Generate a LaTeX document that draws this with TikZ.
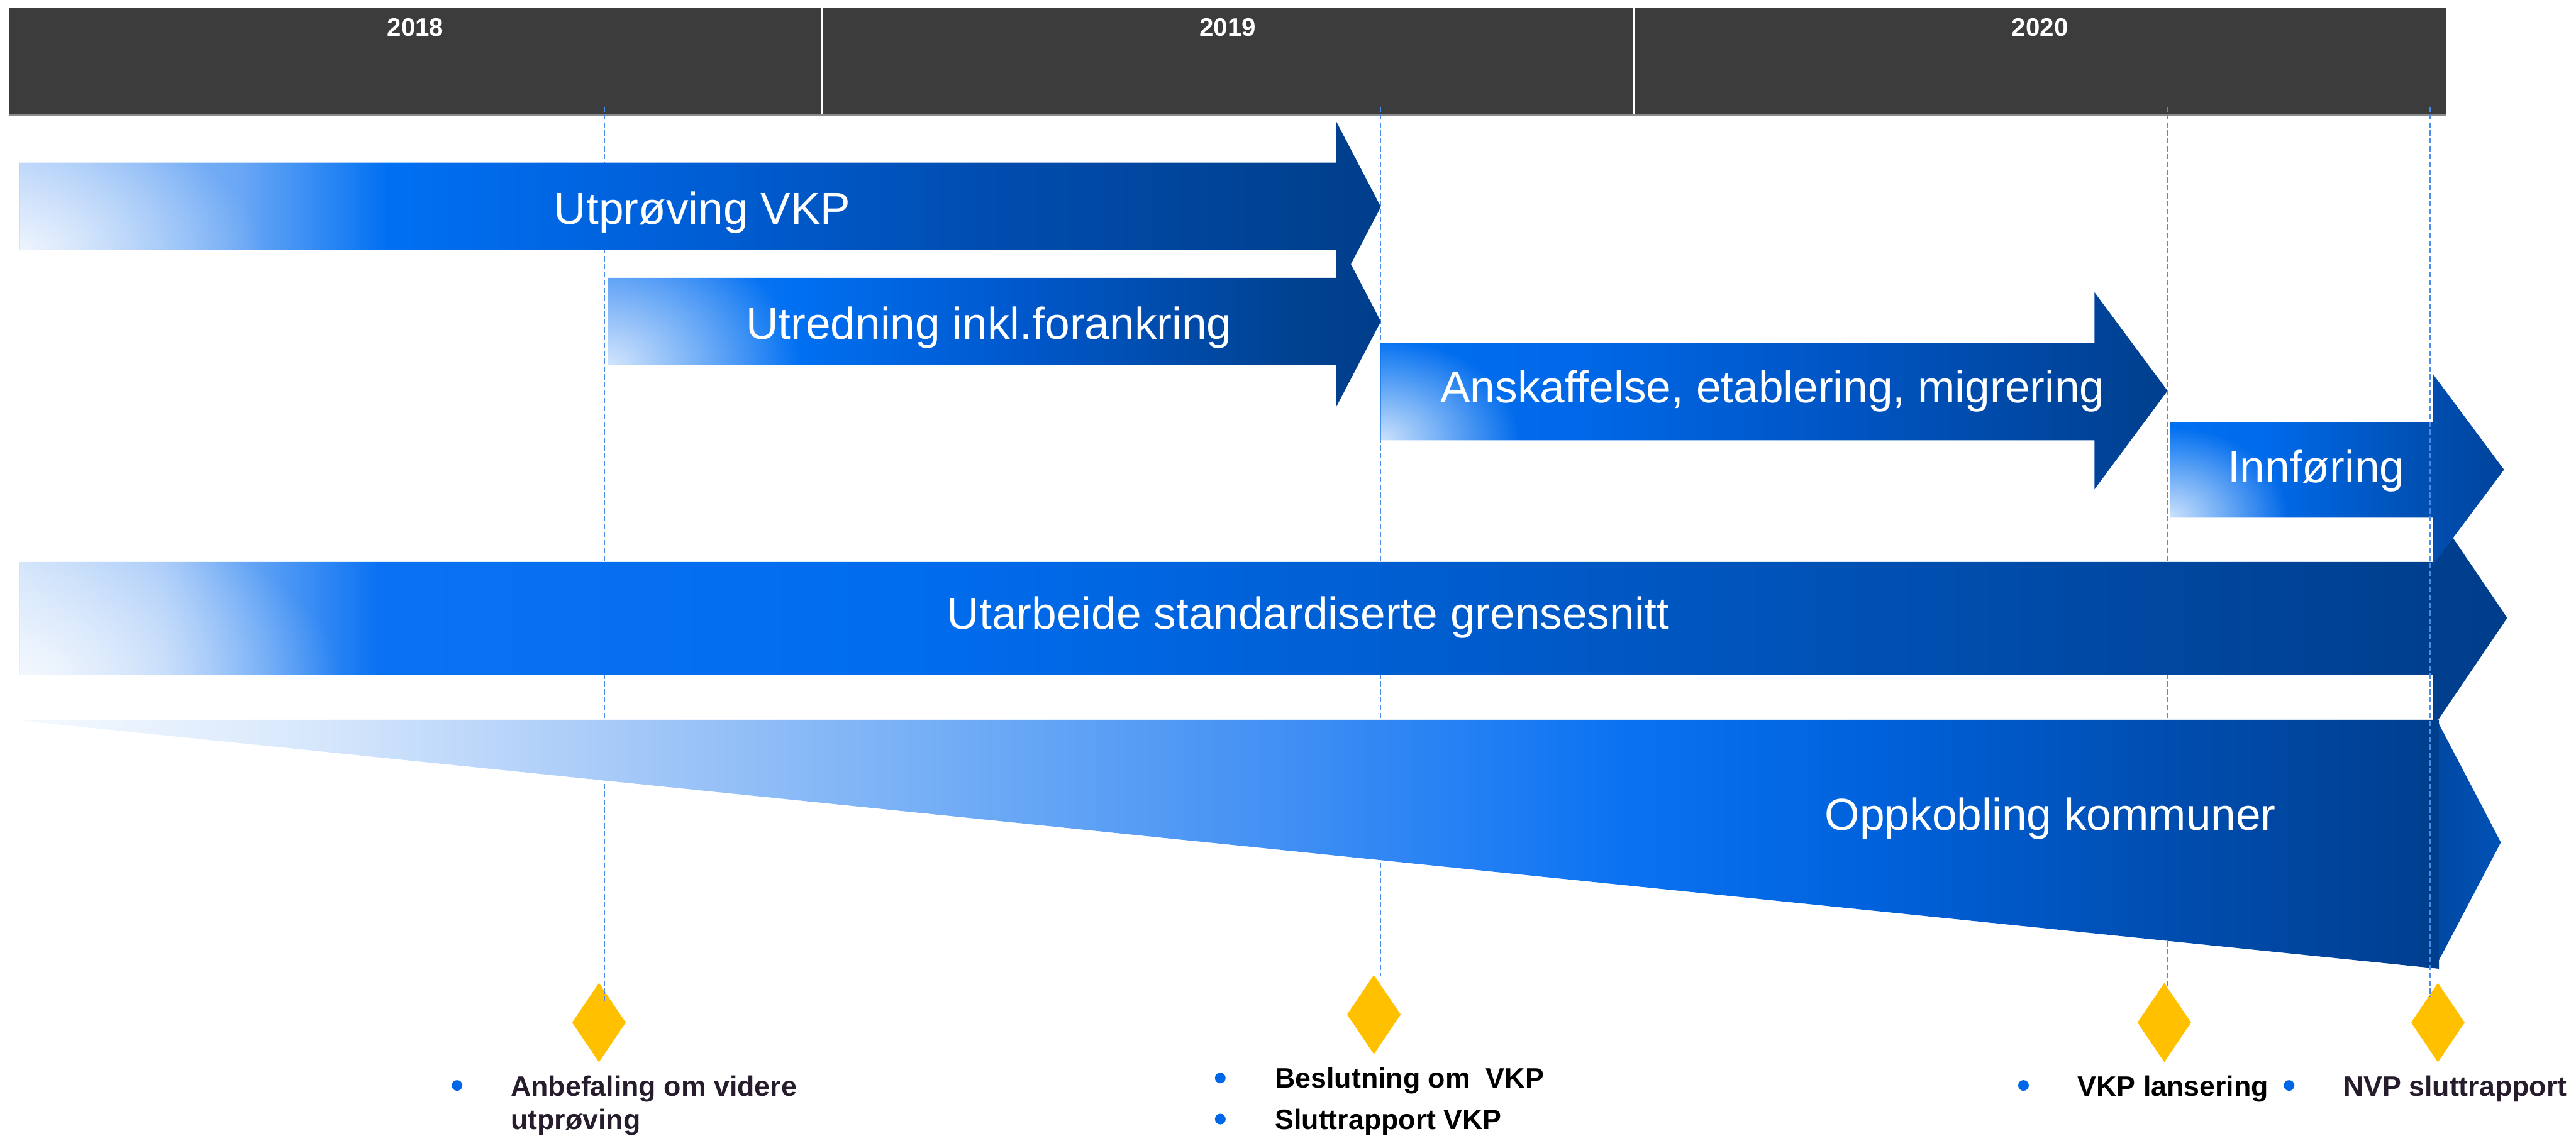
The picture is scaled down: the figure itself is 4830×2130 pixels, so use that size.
\documentclass[tikz,border=0pt]{standalone}
\usepackage{fontspec}
\setmainfont{Liberation Sans}
\usetikzlibrary{shapes.geometric,fadings}

% palette
\definecolor{hdr}{HTML}{3C3C3C}
\definecolor{hdrline}{HTML}{8A8A8A}
\definecolor{guideblue}{HTML}{4A8CE6}
\definecolor{msyellow}{HTML}{FFC000}
\definecolor{dotblue}{HTML}{0066E8}
\definecolor{msdark}{HTML}{261C2C}

% arrow 1
\definecolor{aA}{HTML}{A8CAF8}\definecolor{aB}{HTML}{68A6F5}\definecolor{aC}{HTML}{0070F2}
\definecolor{aD}{HTML}{0061DB}\definecolor{aE}{HTML}{004CAE}\definecolor{aF}{HTML}{00408E}
\definecolor{aG}{HTML}{003E8C}
% arrow 2
\definecolor{bA}{HTML}{1F7DF3}\definecolor{bB}{HTML}{0070F2}\definecolor{bC}{HTML}{0058CC}
\definecolor{bD}{HTML}{00418F}\definecolor{bE}{HTML}{003E8C}
% arrow 3
\definecolor{cA}{HTML}{0070F2}\definecolor{cB}{HTML}{0068E8}\definecolor{cC}{HTML}{0054C2}
\definecolor{cD}{HTML}{00449A}\definecolor{cE}{HTML}{003F8E}
% arrow 4
\definecolor{dA}{HTML}{0070F2}\definecolor{dB}{HTML}{006AEA}\definecolor{dC}{HTML}{0052B8}
\definecolor{dD}{HTML}{00449C}
% arrow 5
\definecolor{eA}{HTML}{C8DEFA}\definecolor{eB}{HTML}{A0C6F8}\definecolor{eC}{HTML}{0A72F2}
\definecolor{eD}{HTML}{006CEE}\definecolor{eE}{HTML}{0056C0}\definecolor{eF}{HTML}{003F8E}
\definecolor{eG}{HTML}{003E8C}
% arrow 6
\definecolor{fA}{HTML}{F6FAFE}\definecolor{fB}{HTML}{D8E8FC}\definecolor{fC}{HTML}{A2C7F8}
\definecolor{fD}{HTML}{6DAAF5}\definecolor{fE}{HTML}{3B8CF4}\definecolor{fF}{HTML}{0A72F2}
\definecolor{fG}{HTML}{0062DC}\definecolor{fH}{HTML}{004FB4}\definecolor{fI}{HTML}{003E8E}
\definecolor{hA}{HTML}{0049A4}\definecolor{hB}{HTML}{0052B6}

\pgfdeclarehorizontalshading{shA}{100bp}{color(0bp)=(aA); color(25bp)=(aA); color(33.25bp)=(aB);
  color(38.5bp)=(aC); color(48bp)=(aD); color(61bp)=(aE); color(73.25bp)=(aF); color(75bp)=(aG); color(100bp)=(aG)}
\pgfdeclarehorizontalshading{shB}{100bp}{color(0bp)=(bA); color(25bp)=(bA); color(37bp)=(bB);
  color(51.5bp)=(bC); color(70bp)=(bD); color(75bp)=(bE); color(100bp)=(bE)}
\pgfdeclarehorizontalshading{shC}{100bp}{color(0bp)=(cA); color(25bp)=(cA); color(37.5bp)=(cB);
  color(55bp)=(cC); color(70bp)=(cD); color(75bp)=(cE); color(100bp)=(cE)}
\pgfdeclarehorizontalshading{shD}{100bp}{color(0bp)=(dA); color(25bp)=(dA); color(40bp)=(dB);
  color(60bp)=(dC); color(75bp)=(dD); color(100bp)=(dD)}
\pgfdeclarehorizontalshading{shE}{100bp}{color(0bp)=(eA); color(25bp)=(eA); color(27.9bp)=(eB);
  color(32.2bp)=(eC); color(43bp)=(eD); color(58.25bp)=(eE); color(73.5bp)=(eF); color(75bp)=(eG); color(100bp)=(eG)}
\pgfdeclarehorizontalshading{shF}{100bp}{color(0bp)=(fA); color(25bp)=(fA); color(31bp)=(fB);
  color(38bp)=(fC); color(45bp)=(fD); color(52bp)=(fE); color(58.25bp)=(fF); color(63.25bp)=(fG);
  color(68.75bp)=(fH); color(75bp)=(fI); color(100bp)=(fI)}
\pgfdeclarehorizontalshading{shH}{100bp}{color(0bp)=(hA); color(25bp)=(hA); color(75bp)=(hB); color(100bp)=(hB)}

% soft white spot for the lower left corners of the bars
\tikzfading[name=glow, inner color=transparent!20, outer color=transparent!100]

\begin{document}
\begin{tikzpicture}[x=0.01cm,y=-0.01cm,
  yearlbl/.style={text=white,font=\fontsize{13.5pt}{16pt}\selectfont\bfseries,inner sep=0pt,anchor=base},
  barlbl/.style={text=white,font=\fontsize{23.9pt}{28pt}\selectfont,inner sep=0pt,anchor=base west},
  mslbl/.style={font=\fontsize{15pt}{18pt}\selectfont\bfseries,inner sep=0pt,anchor=base west},
  msdot/.style={circle,fill=dotblue,inner sep=0pt,minimum size=0.2cm},
  milestone/.style={diamond,fill=msyellow,inner sep=0pt,minimum width=1.01cm,minimum height=1.49cm},
  guide/.style={draw=guideblue,line width=0.55pt,dash pattern=on 2.8pt off 1.4pt},
  glowspot/.style={fill=white,path fading=glow}
]
\useasboundingbox (0,0) rectangle (4830,2130);

% year header
\fill[hdr] (18,15) rectangle (4586,216);
\draw[white,line width=0.8pt] (1541,15) -- (1541,216);
\draw[white,line width=0.8pt] (3064,15) -- (3064,216);
\draw[hdrline,line width=0.6pt] (18,216) -- (4586,216);
\node[yearlbl] (y2018) at (779,68) {2018};
\node[yearlbl] (y2019) at (2302,68) {2019};
\node[yearlbl] (y2020) at (3825,68) {2020};

% milestones
\node[milestone] (m1) at (1123,1918) {};
\node[milestone] (m2) at (2576,1903) {};
\node[milestone] (m3) at (4058,1918) {};
\node[milestone] (m4) at (4571,1918) {};

% guide lines
\coordinate (g1a) at (1133,200); \coordinate (g1b) at (1133,1878);
\coordinate (g2a) at (2589,200); \coordinate (g2b) at (2589,1830);
\coordinate (g3a) at (4064,200); \coordinate (g3b) at (4064,1850);
\coordinate (g4a) at (4556,200); \coordinate (g4b) at (4556,1870);
\draw[guide] (g1a) -- (g1b);
\draw[guide] (g2a) -- (g2b);
\draw[guide] (g3a) -- (g3b);

% Utprøving VKP
\shade[shading=shA] (37,305) -- (2505,305) -- (2505,227) -- (2589,388) -- (2505,549) -- (2505,468) -- (37,468) -- cycle;
\begin{scope}
  \clip (37,305) rectangle (2505,468);
  \fill[glowspot] (37,468) ellipse [x radius=4.5cm, y radius=2.5cm];
\end{scope}

% Utredning
\shade[shading=shB] (1140,521) -- (2505,521) -- (2505,442) -- (2589,603) -- (2505,764) -- (2505,685) -- (1140,685) -- cycle;
\begin{scope}
  \clip (1140,521) rectangle (2505,685);
  \fill[glowspot] (1140,685) ellipse [x radius=3.6cm, y radius=2.6cm];
\end{scope}

% Anskaffelse
\shade[shading=shC] (2589,643) -- (3927,643) -- (3927,548) -- (4064,733) -- (3927,918) -- (3927,826) -- (2589,826) -- cycle;
\begin{scope}
  \clip (2589,643) rectangle (3927,826);
  \fill[glowspot] (2589,826) ellipse [x radius=2.6cm, y radius=1.9cm];
\end{scope}

% Utarbeide standardiserte grensesnitt
\shade[shading=shE] (37,1054) -- (4562,1054) -- (4562,954) -- (4701,1159) -- (4562,1364) -- (4562,1266) -- (37,1266) -- cycle;
\begin{scope}
  \clip (37,1054) rectangle (4562,1266);
  \fill[glowspot] (37,1266) ellipse [x radius=6cm, y radius=3cm];
\end{scope}

% Oppkobling kommuner
\shade[shading=shF] (23,1350) -- (4573,1350) -- (4573,1817) -- cycle;
\shade[shading=shH] (4573,1358) -- (4689,1580) -- (4573,1801) -- cycle;

% Innføring
\shade[shading=shD] (4069,792) -- (4562,792) -- (4562,702) -- (4695,881) -- (4562,1059) -- (4562,971) -- (4069,971) -- cycle;
\begin{scope}
  \clip (4069,792) rectangle (4562,971);
  \fill[glowspot] (4069,971) ellipse [x radius=2.2cm, y radius=1.7cm];
\end{scope}

\draw[guide] (g4a) -- (g4b);

% bar labels
\node[barlbl] (t1) at (1038,420) {Utprøving VKP};
\node[barlbl] (t2) at (1398,636) {Utredning inkl.forankring};
\node[barlbl] (t3) at (2700,755) {Anskaffelse, etablering, migrering};
\node[barlbl] (t4) at (4176,905) {Innføring};
\node[barlbl] (t5) at (1775,1180) {Utarbeide standardiserte grensesnitt};
\node[barlbl] (t6) at (3421,1557) {Oppkobling kommuner};

% milestone notes
\node[msdot] (d1) at (857,2036) {};
\node[mslbl,text=msdark] (n1a) at (957,2056) {Anbefaling om videre};
\node[mslbl,text=msdark] (n1b) at (957,2118) {utprøving};
\node[msdot] (d2) at (2288,2022) {};
\node[msdot] (d3) at (2288,2099) {};
\node[mslbl] (n2a) at (2390,2041) {Beslutning om\ \ VKP};
\node[mslbl] (n2b) at (2390,2118) {Sluttrapport VKP};
\node[msdot] (d4) at (3794,2036) {};
\node[mslbl] (n3) at (3895,2056) {VKP lansering};
\node[msdot] (d5) at (4292,2036) {};
\node[mslbl,text=msdark] (n4) at (4393,2056) {NVP sluttrapport};
\end{tikzpicture}
\end{document}
